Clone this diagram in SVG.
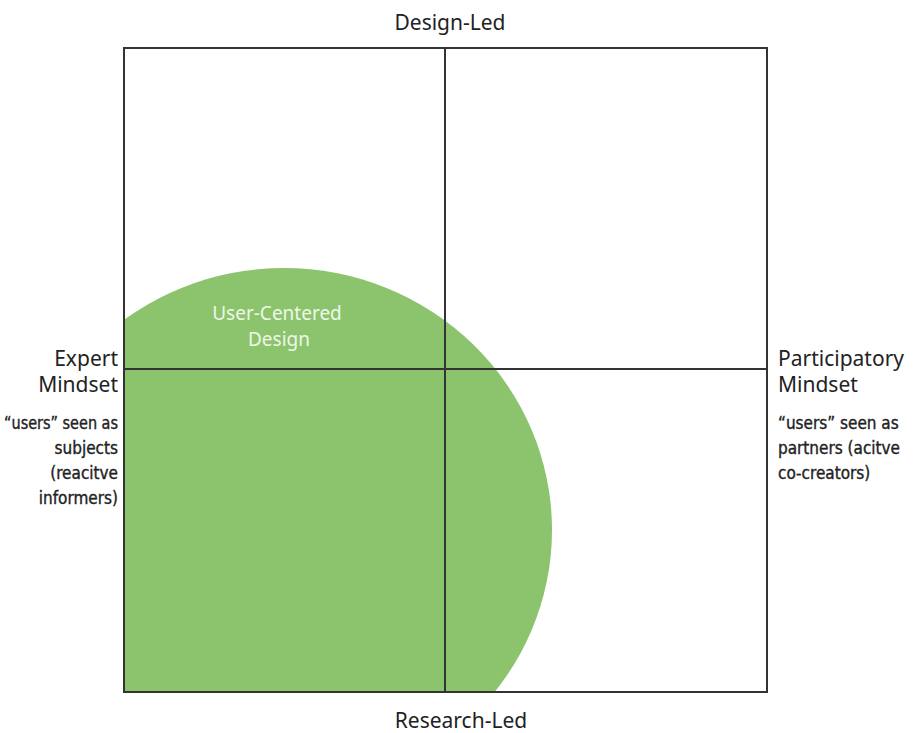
<svg xmlns="http://www.w3.org/2000/svg" width="916" height="733" viewBox="0 0 916 733">
<defs>
<style>
.h{font-family:"Noto Sans","DejaVu Sans",sans-serif;font-size:21px;fill:#222}
.s{font-family:"Liberation Sans Narrow","DejaVu Sans Condensed","Liberation Sans",sans-serif;font-size:17px;fill:#222;stroke:#222;stroke-width:0.35}
.w{font-family:"Noto Sans","DejaVu Sans",sans-serif;font-size:19px;fill:#eef7e8}
.ln{stroke:#333;stroke-width:2;fill:none}
</style>
<clipPath id="fr"><rect x="124" y="48" width="643" height="644"/></clipPath>
</defs>
<rect width="916" height="733" fill="#fff"/>
<g id="ucd">
<ellipse cx="284" cy="530" rx="268" ry="262" fill="#8cc36d" clip-path="url(#fr)"/>
<text class="w" x="277" y="320" text-anchor="middle">User-Centered</text>
<text class="w" x="279" y="346" text-anchor="middle">Design</text>
</g>
<g id="connectors">
<rect class="ln" x="124" y="48" width="643" height="644"/>
<line class="ln" x1="445" y1="48" x2="445" y2="692"/>
<line class="ln" x1="124" y1="369" x2="767" y2="369"/>
</g>
<g id="top"><text class="h" x="450" y="30" text-anchor="middle">Design-Led</text></g>
<g id="bottom"><text class="h" x="461" y="728" text-anchor="middle">Research-Led</text></g>
<g id="left">
<text class="h" x="118" y="366" text-anchor="end">Expert</text>
<text class="h" x="118" y="392" text-anchor="end">Mindset</text>
<text class="s" x="4" y="429" textLength="114" lengthAdjust="spacingAndGlyphs">“users” seen as</text>
<text class="s" x="118" y="454" text-anchor="end">subjects</text>
<text class="s" x="118" y="479" text-anchor="end">(reacitve</text>
<text class="s" x="118" y="504" text-anchor="end">informers)</text>
</g>
<g id="right">
<text class="h" x="778" y="366">Participatory</text>
<text class="h" x="778" y="392">Mindset</text>
<text class="s" x="778" y="429">“users” seen as</text>
<text class="s" x="778" y="454">partners (acitve</text>
<text class="s" x="778" y="479">co-creators)</text>
</g>
</svg>
